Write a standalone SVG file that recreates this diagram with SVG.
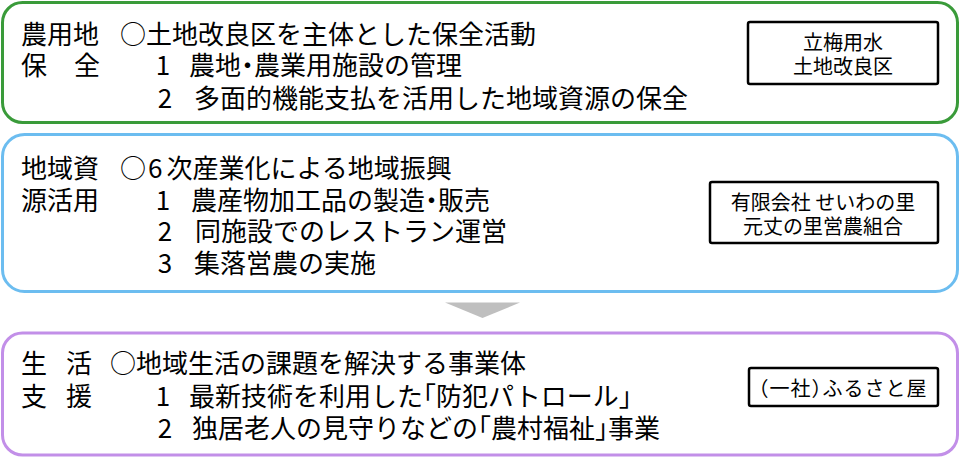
<svg xmlns="http://www.w3.org/2000/svg" width="960" height="458" viewBox="0 0 960 458">
<style>
text{font-family:"Noto Sans CJK JP","Noto Sans CJK SC",sans-serif;fill:#000}
.m{font-size:26px}
.n{font-size:26px;text-anchor:middle}
.s{font-size:20px;text-anchor:middle}
.h{font-feature-settings:"halt"}
.panel{fill:#fff;stroke-width:3}
.org{fill:#fff;stroke:#000;stroke-width:2.5}
</style>
<rect width="960" height="458" fill="#fff"/>
<g id="panel-nouyouchi">
<rect class="panel" x="2.5" y="2.5" width="955" height="120" rx="20" stroke="#3a9b3a"/>
<text class="m" x="21" y="44">農用地</text>
<text class="m" x="120" y="44">○土地改良区を主体とした保全活動</text>
<text class="m" x="21" y="75">保<tspan x="74">全</tspan></text>
<text class="n" x="163" y="75">1</text>
<text class="m" x="189" y="75">農地<tspan class="h">・</tspan>農業用施設の管理</text>
<text class="n" x="165" y="108">2</text>
<text class="m" x="194" y="108">多面的機能支払を活用した地域資源の保全</text>
</g>
<g id="org-tachiume">
<rect class="org" x="748" y="22" width="190" height="62" rx="2"/>
<text class="s" x="843" y="50">立梅用水</text>
<text class="s" x="843" y="74">土地改良区</text>
</g>
<g id="panel-chiikishigen">
<rect class="panel" x="2.5" y="134.5" width="955" height="157" rx="22" stroke="#6cbdf0"/>
<text class="m" x="21" y="178">地域資</text>
<text class="m" x="120" y="178">○<tspan dx="2">6</tspan><tspan dx="4">次産業化による地域振興</tspan></text>
<text class="m" x="21" y="210">源活用</text>
<text class="n" x="163" y="210">1</text>
<text class="m" x="191" y="210">農産物加工品の製造<tspan class="h">・</tspan>販売</text>
<text class="n" x="165" y="241">2</text>
<text class="m" x="195" y="241">同施設でのレストラン運営</text>
<text class="n" x="165" y="273">3</text>
<text class="m" x="194" y="273">集落営農の実施</text>
</g>
<g id="org-seiwa">
<rect class="org" x="710" y="182" width="228" height="61" rx="2"/>
<text class="s" x="823" y="210">有限会社 せいわの里</text>
<text class="s" x="823" y="233.5">元丈の里営農組合</text>
</g>
<g id="panel-seikatsu">
<rect class="panel" x="2.5" y="333" width="955" height="122" rx="20" stroke="#c28fe8"/>
<text class="m" x="21" y="373">生<tspan x="66">活</tspan></text>
<text class="m" x="110" y="373">○地域生活の課題を解決する事業体</text>
<text class="m" x="21" y="406">支<tspan x="66">援</tspan></text>
<text class="n" x="163" y="406">1</text>
<text class="m" x="189" y="406">最新技術を利用した<tspan class="h">「</tspan>防犯パトロール<tspan class="h">」</tspan></text>
<text class="n" x="165" y="438">2</text>
<text class="m" x="192" y="438">独居老人の見守りなどの<tspan class="h">「</tspan>農村福祉<tspan class="h">」</tspan>事業</text>
</g>
<g id="org-furusatoya">
<rect class="org" x="749" y="368" width="189" height="38" rx="2"/>
<text class="s" x="843" y="395.5" style="letter-spacing:1px"><tspan class="h">（</tspan>一社<tspan class="h">）</tspan>ふるさと屋</text>
</g>
<g id="connectors">
<polygon points="445,302.5 520,302.5 482.5,318" fill="#bfbfbf"/>
</g>
</svg>
